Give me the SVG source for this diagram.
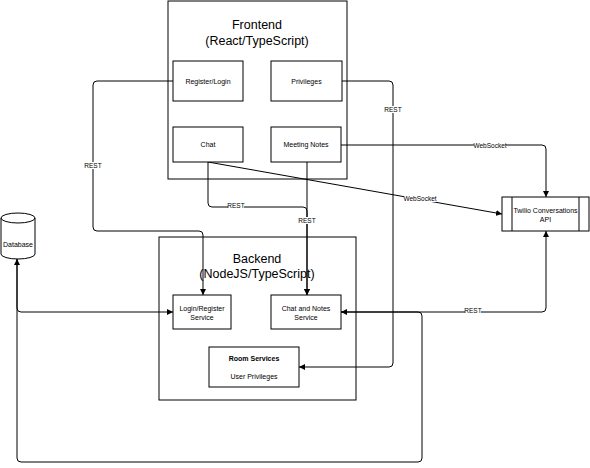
<svg xmlns="http://www.w3.org/2000/svg" width="590" height="468" viewBox="0 0 590 468">
<style>
.box{fill:#fff;stroke:#000;stroke-width:1}
.ln{fill:none;stroke:#000;stroke-width:1}
text{font-family:"Liberation Sans",Arial,sans-serif;fill:#000;text-anchor:middle}
.t{font-size:12.5px}
.n{font-size:7px}
.l{font-size:6.5px}
.lb{fill:#fff;stroke:none}
</style>
<defs>
<marker id="ar" markerWidth="6" markerHeight="6" refX="6" refY="3" orient="auto-start-reverse" markerUnits="userSpaceOnUse">
<path d="M0,0 L6,3 L0,6 z" fill="#000"/>
</marker>
</defs>
<rect width="590" height="468" fill="#fff"/>
<g id="frontend">
<rect class="box" x="168" y="1" width="179" height="178"/>
<text class="t" x="257" y="28.5">Frontend</text>
<text class="t" x="257" y="44.5">(React/TypeScript)</text>
</g>
<g id="backend">
<rect class="box" x="159" y="237" width="197" height="163"/>
<text class="t" x="257" y="262.5">Backend</text>
<text class="t" x="257" y="277.5">(NodeJS/TypeScript)</text>
</g>
<g id="connectors">
<path class="ln" d="M173,81 H97 Q93,81 93,85 V227 Q93,231 97,231 H199 Q203,231 203,235 V295" marker-end="url(#ar)"/>
<path class="ln" d="M342,81 H389 Q393,81 393,85 V363 Q393,367 389,367 H299" marker-end="url(#ar)"/>
<path class="ln" d="M341,145 H542 Q546,145 546,149 V197" marker-end="url(#ar)"/>
<path class="ln" d="M208,162 L502,214" marker-end="url(#ar)"/>
<path class="ln" d="M208,162 V203 Q208,207 212,207 H303 Q307,207 307,211 V295" marker-end="url(#ar)"/>
<path class="ln" d="M307,162 V295" marker-end="url(#ar)"/>
<path class="ln" d="M546,231 V308 Q546,312 542,312 H341" marker-start="url(#ar)" marker-end="url(#ar)"/>
<path class="ln" d="M17,259 V308 Q17,312 21,312 H173" marker-start="url(#ar)" marker-end="url(#ar)"/>
<path class="ln" d="M17,259 V458 Q17,462 21,462 H418 Q422,462 422,458 V316 Q422,312 418,312 H341"/>
<rect class="lb" x="85" y="162" width="16" height="7"/>
<text class="l" x="93" y="168.3">REST</text>
<rect class="lb" x="385" y="106" width="16" height="7"/>
<text class="l" x="393" y="112.3">REST</text>
<rect class="lb" x="228" y="202" width="16" height="7"/>
<text class="l" x="236" y="208.3">REST</text>
<rect class="lb" x="299" y="217" width="16" height="7"/>
<text class="l" x="307" y="223.3">REST</text>
<rect class="lb" x="465" y="308" width="16" height="7"/>
<text class="l" x="473" y="313.3">REST</text>
<rect class="lb" x="474" y="142" width="32" height="7"/>
<text class="l" x="490" y="148.3">WebSocket</text>
<rect class="lb" x="404" y="195" width="32" height="7"/>
<text class="l" x="420" y="201.3">WebSocket</text>
</g>
<g id="register-login">
<rect class="box" x="173" y="61" width="70" height="40"/>
<text class="n" x="208" y="83.5">Register/Login</text>
</g>
<g id="privileges">
<rect class="box" x="271" y="61" width="71" height="40"/>
<text class="n" x="306.5" y="83.5">Privileges</text>
</g>
<g id="chat">
<rect class="box" x="173" y="127" width="70" height="35"/>
<text class="n" x="208" y="147">Chat</text>
</g>
<g id="meeting-notes">
<rect class="box" x="271" y="127" width="70" height="35"/>
<text class="n" x="306" y="147">Meeting Notes</text>
</g>
<g id="login-register-service">
<rect class="box" x="173" y="295" width="58" height="34"/>
<text class="n" x="202" y="311">Login/Register</text>
<text class="n" x="202" y="319.5">Service</text>
</g>
<g id="chat-notes-service">
<rect class="box" x="271" y="295" width="70" height="34"/>
<text class="n" x="306" y="311">Chat and Notes</text>
<text class="n" x="306" y="319.5">Service</text>
</g>
<g id="room-services">
<rect class="box" x="209" y="347" width="90" height="40"/>
<text class="n" x="254" y="361" font-weight="bold">Room Services</text>
<text class="n" x="254" y="378.5">User Privileges</text>
</g>
<g id="twilio">
<rect class="box" x="502" y="197" width="87" height="34"/>
<line class="ln" x1="512" y1="197" x2="512" y2="231"/>
<line class="ln" x1="579" y1="197" x2="579" y2="231"/>
<text class="n" x="545.5" y="213">Twilio Conversations</text>
<text class="n" x="545.5" y="221.5">API</text>
</g>
<g id="database">
<path class="box" d="M1,218 A17,5 0 0 1 35,218 V254 A17,5 0 0 1 1,254 Z"/>
<path class="ln" d="M1,218 A17,5 0 0 0 35,218"/>
<text class="n" x="18" y="246.5">Database</text>
</g>
</svg>
